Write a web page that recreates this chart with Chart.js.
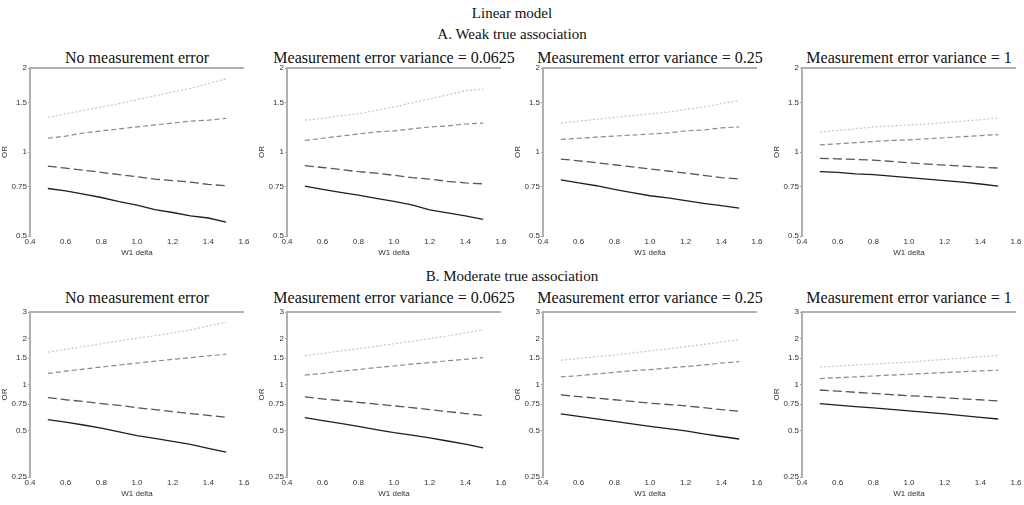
<!DOCTYPE html>
<html>
<head>
<meta charset="utf-8">
<script src="https://cdn.jsdelivr.net/npm/chart.js@4.4.1/dist/chart.umd.min.js"></script>
<style>
  body { margin: 0; background: #fff; width: 1024px; height: 505px; position: relative; overflow: hidden; }
  .t { position: absolute; font-family: "Liberation Serif", "Times New Roman", serif; color: #111; white-space: nowrap; transform: translate(-50%, -50%); }
  canvas { position: absolute; }
</style>
</head>
<body>
<div class="t" style="left:512px;top:13px;font-size:15px">Linear model</div>
<div class="t" style="left:512px;top:34px;font-size:15px">A. Weak true association</div>
<div class="t" style="left:512px;top:276px;font-size:15px">B. Moderate true association</div>
<div id="wrap"></div>
<script>
const xValues = [0.5, 0.6, 0.7, 0.8, 0.9, 1.0, 1.1, 1.2, 1.3, 1.4, 1.5];
const xTicks = [0.4, 0.6, 0.8, 1.0, 1.2, 1.4, 1.6];
const panelTitles = ['No measurement error', 'Measurement error variance = 0.0625', 'Measurement error variance = 0.25', 'Measurement error variance = 1'];
const yTicksA = [0.5, 0.75, 1, 1.5, 2];
const yTicksB = [0.25, 0.5, 0.75, 1, 1.5, 2, 3];

// row A: weak true association (dotted, short dash, long dash, solid)
const weakNoErr = [
  [1.33, 1.37, 1.41, 1.45, 1.49, 1.54, 1.59, 1.64, 1.69, 1.76, 1.83],
  [1.12, 1.14, 1.17, 1.19, 1.21, 1.23, 1.25, 1.27, 1.29, 1.30, 1.32],
  [0.89, 0.875, 0.86, 0.845, 0.83, 0.815, 0.80, 0.79, 0.78, 0.765, 0.757],
  [0.74, 0.726, 0.706, 0.687, 0.664, 0.645, 0.622, 0.607, 0.590, 0.580, 0.561]
];
const weakErr0625 = [
  [1.30, 1.32, 1.35, 1.37, 1.41, 1.45, 1.50, 1.55, 1.60, 1.66, 1.68],
  [1.10, 1.12, 1.14, 1.16, 1.18, 1.19, 1.21, 1.23, 1.24, 1.26, 1.27],
  [0.893, 0.88, 0.865, 0.85, 0.84, 0.825, 0.81, 0.80, 0.785, 0.775, 0.769],
  [0.755, 0.735, 0.717, 0.70, 0.682, 0.665, 0.646, 0.62, 0.605, 0.59, 0.574]
];
const weakErr25 = [
  [1.27, 1.29, 1.31, 1.33, 1.35, 1.37, 1.39, 1.42, 1.45, 1.49, 1.53],
  [1.11, 1.12, 1.13, 1.14, 1.15, 1.16, 1.17, 1.19, 1.20, 1.22, 1.23],
  [0.943, 0.93, 0.915, 0.90, 0.885, 0.87, 0.855, 0.84, 0.825, 0.81, 0.80],
  [0.795, 0.775, 0.757, 0.735, 0.715, 0.697, 0.685, 0.67, 0.655, 0.642, 0.629]
];
const weakErr1 = [
  [1.18, 1.195, 1.21, 1.23, 1.24, 1.25, 1.26, 1.275, 1.29, 1.305, 1.325],
  [1.06, 1.07, 1.08, 1.09, 1.10, 1.105, 1.115, 1.125, 1.135, 1.145, 1.154],
  [0.949, 0.945, 0.94, 0.935, 0.925, 0.915, 0.905, 0.897, 0.89, 0.883, 0.876],
  [0.85, 0.845, 0.835, 0.83, 0.82, 0.81, 0.80, 0.79, 0.78, 0.768, 0.755]
];

// row B: moderate true association
const modNoErr = [
  [1.64, 1.71, 1.78, 1.86, 1.94, 2.02, 2.10, 2.19, 2.29, 2.43, 2.57],
  [1.19, 1.23, 1.27, 1.31, 1.35, 1.39, 1.43, 1.47, 1.51, 1.55, 1.59],
  [0.826, 0.80, 0.78, 0.755, 0.735, 0.71, 0.69, 0.67, 0.65, 0.632, 0.614],
  [0.593, 0.572, 0.547, 0.522, 0.494, 0.466, 0.447, 0.428, 0.408, 0.385, 0.364]
];
const modErr0625 = [
  [1.55, 1.61, 1.67, 1.73, 1.79, 1.86, 1.93, 2.01, 2.09, 2.19, 2.30],
  [1.16, 1.19, 1.23, 1.26, 1.30, 1.33, 1.37, 1.40, 1.44, 1.47, 1.51],
  [0.835, 0.81, 0.79, 0.77, 0.75, 0.73, 0.71, 0.69, 0.67, 0.65, 0.63],
  [0.611, 0.585, 0.56, 0.535, 0.51, 0.488, 0.47, 0.45, 0.43, 0.41, 0.387]
];
const modErr25 = [
  [1.45, 1.49, 1.53, 1.57, 1.62, 1.67, 1.72, 1.78, 1.84, 1.91, 1.98],
  [1.13, 1.15, 1.18, 1.21, 1.24, 1.26, 1.29, 1.32, 1.35, 1.39, 1.42],
  [0.86, 0.84, 0.82, 0.80, 0.78, 0.76, 0.745, 0.73, 0.71, 0.69, 0.673],
  [0.646, 0.622, 0.60, 0.578, 0.556, 0.536, 0.518, 0.50, 0.478, 0.46, 0.443]
];
const modErr1 = [
  [1.31, 1.33, 1.35, 1.37, 1.39, 1.41, 1.44, 1.47, 1.50, 1.53, 1.56],
  [1.10, 1.115, 1.13, 1.145, 1.16, 1.175, 1.19, 1.205, 1.22, 1.235, 1.25],
  [0.927, 0.91, 0.895, 0.88, 0.865, 0.85, 0.84, 0.825, 0.81, 0.80, 0.786],
  [0.755, 0.738, 0.722, 0.707, 0.692, 0.677, 0.662, 0.646, 0.63, 0.614, 0.599]
];

// line looks, same order as the series above
const lineStyles = [
  { color: '#c4c4c4', dash: [2, 2], width: 1.2 },
  { color: '#8a8a8a', dash: [5, 3], width: 1.2 },
  { color: '#555555', dash: [9, 4], width: 1.3 },
  { color: '#1e1e1e', dash: [], width: 1.3 }
];

const axisX = [30, 287, 543, 802];
const rows = [
  { top: 68, bottom: 236, titleY: 58, ticks: yTicksA, min: 0.5, max: 2, panels: [weakNoErr, weakErr0625, weakErr25, weakErr1] },
  { top: 312, bottom: 477, titleY: 298, ticks: yTicksB, min: 0.25, max: 3, panels: [modNoErr, modErr0625, modErr25, modErr1] }
];

const sans = '"Liberation Sans", Arial, sans-serif';
const plotW = 214;
const leftW = 30;

const topLine = {
  id: 'topLine',
  afterDraw(chart) {
    const a = chart.chartArea, ctx = chart.ctx;
    ctx.save();
    ctx.strokeStyle = '#b0b0b0';
    ctx.lineWidth = 2;
    ctx.beginPath();
    ctx.moveTo(a.left, a.top);
    ctx.lineTo(a.right, a.top);
    ctx.stroke();
    ctx.restore();
  }
};

const wrap = document.getElementById('wrap');
rows.forEach((row) => {
  row.panels.forEach((series, i) => {
    const title = document.createElement('div');
    title.className = 't';
    title.style.left = (axisX[i] + plotW / 2) + 'px';
    title.style.top = row.titleY + 'px';
    title.style.fontSize = '16px';
    title.textContent = panelTitles[i];
    wrap.appendChild(title);

    const padTop = 6, padRight = 9, bottomH = 24;
    const canvas = document.createElement('canvas');
    const w = leftW + plotW + padRight;
    const h = padTop + (row.bottom - row.top) + bottomH;
    canvas.style.left = (axisX[i] - leftW) + 'px';
    canvas.style.top = (row.top - padTop) + 'px';
    canvas.style.width = w + 'px';
    canvas.style.height = h + 'px';
    wrap.appendChild(canvas);

    new Chart(canvas, {
      type: 'line',
      data: {
        labels: xValues,
        datasets: series.map((vals, k) => ({
          data: vals.map((v, j) => ({ x: xValues[j], y: v })),
          borderColor: lineStyles[k].color,
          borderDash: lineStyles[k].dash,
          borderWidth: lineStyles[k].width,
          pointRadius: 0,
          fill: false,
          tension: 0
        }))
      },
      options: {
        responsive: false,
        animation: false,
        events: [],
        layout: { padding: { top: padTop, right: padRight, left: 0, bottom: 0 } },
        plugins: { legend: { display: false }, tooltip: { enabled: false } },
        scales: {
          x: {
            type: 'linear',
            min: 0.4,
            max: 1.6,
            afterFit: (s) => { s.height = bottomH; },
            afterBuildTicks: (s) => { s.ticks = xTicks.map(v => ({ value: v })); },
            ticks: { padding: 1, maxRotation: 0, autoSkip: false, color: '#333', font: { family: sans, size: 8 }, callback: (v) => Number(v).toFixed(1) },
            grid: { display: false, drawTicks: false },
            border: { display: false },
            title: { display: true, text: 'W1 delta', color: '#333', font: { family: sans, size: 8 }, padding: { top: 0, bottom: 2 } }
          },
          y: {
            type: 'logarithmic',
            min: row.min,
            max: row.max,
            afterFit: (s) => { s.width = leftW; },
            afterBuildTicks: (s) => { s.ticks = row.ticks.map(v => ({ value: v })); },
            ticks: { padding: 1, autoSkip: false, color: '#333', font: { family: sans, size: 8 }, callback: (v) => String(v) },
            grid: { drawOnChartArea: false, drawTicks: true, tickLength: 2, color: '#999' },
            border: { display: true, color: '#b0b0b0', width: 2 },
            title: { display: true, text: 'OR', color: '#333', font: { family: sans, size: 8 }, padding: 0 }
          }
        }
      },
      plugins: [topLine]
    });
  });
});
</script>
</body>
</html>
